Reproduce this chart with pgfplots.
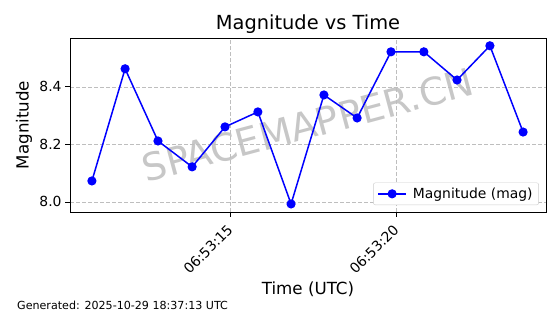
\documentclass[border=0pt]{standalone}
\usepackage{pgfplots}
\pgfplotsset{compat=1.18}
\usepackage{fontspec}
\setmainfont{DejaVu Sans}
\definecolor{mplblue}{RGB}{0,0,255}
\definecolor{gridgray}{RGB}{190,190,190}
\begin{document}
\begin{tikzpicture}
\path[use as bounding box] (0pt,0pt) rectangle (560pt,314pt);
\node[rotate=15, text=black!22, font=\fontsize{38}{38}\selectfont] at (308pt,189pt) {SPACEMAPPER.CN};
\begin{axis}[
  at={(70pt,102pt)}, anchor=south west,
  width=476pt, height=174pt, scale only axis,
  xmin=10.18, xmax=24.52, ymin=7.965, ymax=8.570,
  xtick={15,20}, xticklabels={06:53:15,06:53:20},
  ytick={8.0,8.2,8.4},
  xtick pos=bottom, ytick pos=left,
  yticklabel style={/pgf/number format/fixed,/pgf/number format/precision=1,/pgf/number format/fixed zerofill},
  x tick label style={rotate=45, anchor=north east, font=\fontsize{13.9}{14}\selectfont, inner sep=2pt, xshift=-5pt},
  y tick label style={font=\fontsize{13.9}{14}\selectfont},
  /pgf/number format/assume math mode=true,
  tick align=outside, tick style={black, line width=0.8pt},
  major tick length=4.9pt,
  xmajorgrids, ymajorgrids,
  grid style={gridgray, dash pattern=on 4pt off 2pt, line width=0.7pt},
  axis line style={line width=0.8pt},
  legend style={at={(0.985,0.04)}, anchor=south east, font=\fontsize{13.9}{14}\selectfont, draw=black!20, rounded corners=2pt, inner xsep=4pt, inner ysep=3pt},
  legend cell align=left,
  legend image code/.code={
    \draw[#1, mark=none] (0pt,0pt) -- (28pt,0pt);
    \draw[#1, only marks] plot coordinates {(14pt,0pt)};
  },
]
\addplot[mplblue, line width=1.5pt, mark=*, mark size=3.8pt, mark options={fill=mplblue}] coordinates {
(10.84,8.073) (11.84,8.463) (12.83,8.212) (13.86,8.122) (14.85,8.261)
(15.84,8.313) (16.84,7.993) (17.83,8.372) (18.83,8.292) (19.85,8.522)
(20.84,8.522) (21.84,8.424) (22.83,8.543) (23.83,8.243)
};
\addlegendentry{\hspace{4pt}Magnitude (mag)}
\end{axis}
\node[font=\fontsize{19.4}{20}\selectfont] at (308pt,290pt) {Magnitude vs Time};
\node[font=\fontsize{16.7}{17}\selectfont] at (308pt,25pt) {Time (UTC)};
\node[font=\fontsize{16.7}{17}\selectfont, rotate=90] at (24pt,189pt) {Magnitude};
\node[font=\fontsize{11.1}{11}\selectfont, anchor=west, inner sep=0pt] at (17pt,9pt) {Generated: 2025-10-29 18:37:13 UTC};
\end{tikzpicture}
\end{document}
